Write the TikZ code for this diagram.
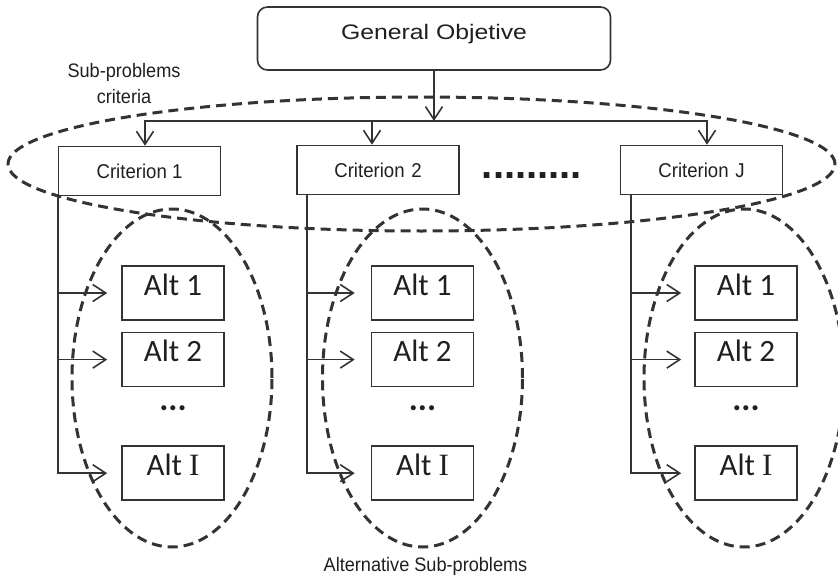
\documentclass[tikz,border=0pt]{standalone}
\usepackage{fontspec}
\setmainfont{Liberation Sans}
\newfontfamily\gofont[FakeStretch=1.18]{Liberation Sans}
\newfontfamily\critfont[FakeStretch=0.93]{Liberation Sans}
\newfontfamily\altfont{Carlito}
\newfontfamily\altIfont{Liberation Serif}
\usepackage{tikz}
\usetikzlibrary{arrows.meta,positioning,shapes.geometric}
\definecolor{ink}{HTML}{333333}

\begin{document}
\begin{tikzpicture}[
  x=1pt,y=-1pt,
  every node/.style={align=center,text=black!88},
  goal/.style={draw=ink,line width=1.6pt,rounded corners=10pt,minimum width=353pt,
               minimum height=63pt,font=\gofont\fontsize{21}{25}\selectfont,
               text height=15pt,text depth=12pt},
  crit/.style={draw=ink,line width=1.6pt,minimum width=162pt,minimum height=49pt,
               font=\critfont\fontsize{20}{24}\selectfont},
  alt/.style={draw=ink,line width=1.6pt,minimum width=102pt,minimum height=54pt,
              font=\altfont\fontsize{31}{36}\selectfont,text height=20pt,text depth=16pt},
  altdots/.style={anchor=base,font=\altfont\bfseries\fontsize{34}{36}\selectfont},
  grp/.style={draw=ink,ellipse,dash pattern=on 10pt off 6pt,line width=3pt,inner sep=0pt},
  lbl/.style={font=\critfont\fontsize{19.5}{26}\selectfont},
  arr/.style={-{Straight Barb[length=13pt,width=17pt]},draw=ink,line width=1.6pt}
]
\useasboundingbox (0,0) rectangle (838,578);

% Top goal.
\node[goal] (go) at (434,38.5) {General Objetive};

% Criteria row.
\node[crit] (c1) at (139.5,171) {Criterion 1};
\node[crit] (c2) at (378,170)   {Criterion\,\,2};
\node[crit] (cJ) at (701.5,170) {Criterion\,\,J};
\node[anchor=base,font=\bfseries\fontsize{40}{40}\selectfont] (cgap) at (532,178) {.........};

% Alternatives under criterion 1.
\node[alt] (a11) at (173,293) {Alt 1};
\node[alt,below=11pt of a11] (a12) {Alt 2};
\node[alt,below=58pt of a12] (a1i) {Alt {\altIfont I}};
\node[altdots] (a1d) at (173,410) {...};

% Alternatives under criterion 2.
\node[alt] (a21) at (422.5,293) {Alt 1};
\node[alt,below=11pt of a21] (a22) {Alt 2};
\node[alt,below=58pt of a22] (a2i) {Alt {\altIfont I}};
\node[altdots] (a2d) at (422.5,410) {...};

% Alternatives under criterion J.
\node[alt] (aJ1) at (746,293) {Alt 1};
\node[alt,below=11pt of aJ1] (aJ2) {Alt 2};
\node[alt,below=58pt of aJ2] (aJi) {Alt {\altIfont I}};
\node[altdots] (aJd) at (746,410) {...};

% Dashed groupings.
\node[grp,minimum width=827pt,minimum height=134pt] (gcrit) at (421.5,164) {};
\node[grp,minimum width=200pt,minimum height=338pt] (g1) at (172,378) {};
\node[grp,minimum width=200pt,minimum height=338pt] (g2) at (422.5,378) {};
\node[grp,minimum width=200pt,minimum height=338pt] (gJ) at (744,378) {};

\node[lbl] (critlbl) at (124,84) {Sub-problems\\criteria};
\node[lbl] (altlbl) at (425.5,566) {Alternative Sub-problems};

% Goal to criteria.
\coordinate (bus) at (434,121);
\draw[arr] (go) -- (bus);
\draw[arr] (bus) -| ([xshift=5.5pt]c1.north);
\draw[arr] (bus) -| ([xshift=-6pt]c2.north);
\draw[arr] (bus) -| ([xshift=5.5pt]cJ.north);

% Criteria to alternatives.
\draw[arr,shorten >=14pt] ([xshift=0.5pt]c1.south west) |- (a11.west);
\draw[arr,shorten >=14pt] ([xshift=0.5pt]c1.south west) |- (a12.west);
\draw[arr,shorten >=14pt] ([xshift=0.5pt]c1.south west) |- (a1i.west);
\draw[arr,shorten >=16pt] ([xshift=11pt]c2.south west) |- (a21.west);
\draw[arr,shorten >=16pt] ([xshift=11pt]c2.south west) |- (a22.west);
\draw[arr,shorten >=16pt] ([xshift=11pt]c2.south west) |- (a2i.west);
\draw[arr,shorten >=13pt] ([xshift=11.5pt]cJ.south west) |- (aJ1.west);
\draw[arr,shorten >=13pt] ([xshift=11.5pt]cJ.south west) |- (aJ2.west);
\draw[arr,shorten >=13pt] ([xshift=11.5pt]cJ.south west) |- (aJi.west);
\end{tikzpicture}
\end{document}
